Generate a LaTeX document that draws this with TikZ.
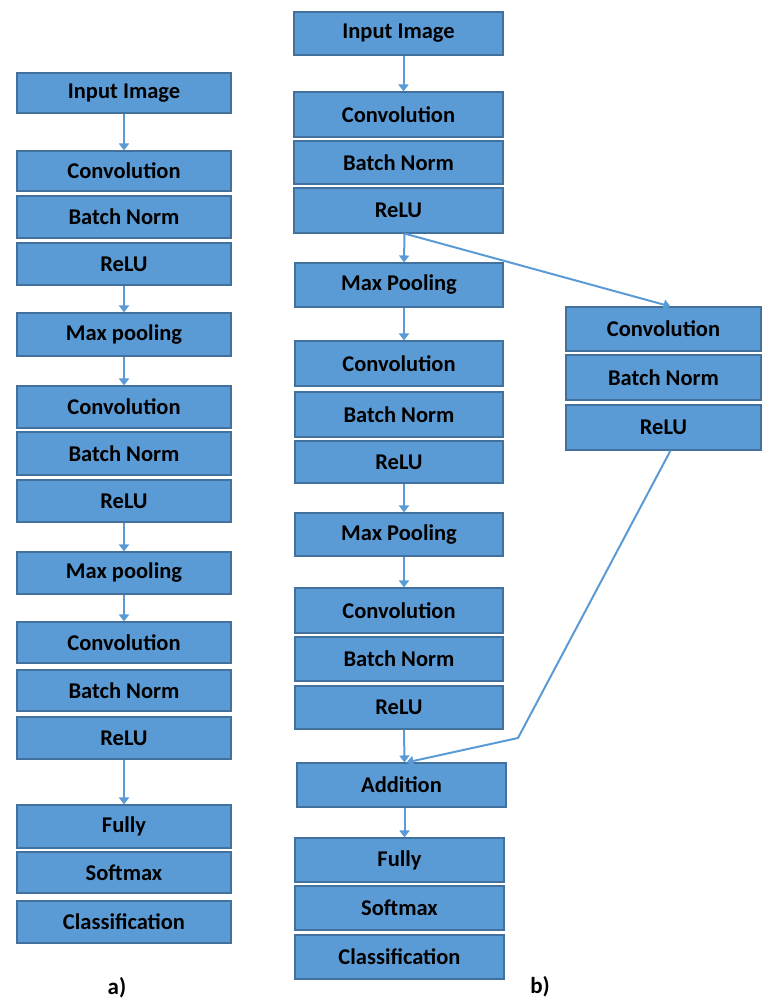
\documentclass[tikz,border=0pt]{standalone}
\usepackage{fontspec}
\setmainfont{Carlito}
\usetikzlibrary{arrows.meta,calc}
\definecolor{boxfill}{HTML}{5B9BD5}
\definecolor{boxline}{HTML}{41719C}
\definecolor{arr}{HTML}{5B9BD5}
\newcommand\bx[6]{\node[box, minimum width={(#4-#2)*1pt}, minimum height={(#5-#3)*1pt}] (#1) at ({(#2+#4)/2},{(#3+#5)/2}) {\raisebox{-1.5pt}{#6}};}
\begin{document}
\begin{tikzpicture}[x=1pt,y=-1pt,
  box/.style={draw=boxline, fill=boxfill, line width=1.1pt, inner sep=0pt,
    font=\fontsize{22.5}{24}\selectfont\bfseries, text=black},
  link/.style={draw=arr, line width=2pt, -{Triangle[width=10pt,length=7pt]}},
  lab/.style={font=\fontsize{23}{25}\selectfont\bfseries, text=black}]
\useasboundingbox (0,0) rectangle (762,1002);
% left column a)
\bx{a1}{17}{73}{231}{113}{Input Image}
\bx{a2}{17}{151}{231}{191}{Convolution}
\bx{a3}{17}{196}{231}{238}{Batch Norm}
\bx{a4}{17}{243}{231}{285}{ReLU}
\bx{a5}{17}{313}{231}{356}{Max pooling}
\bx{a6}{17}{386}{231}{428}{Convolution}
\bx{a7}{17}{432}{231}{475}{Batch Norm}
\bx{a8}{17}{480}{231}{522}{ReLU}
\bx{a9}{17}{552}{231}{594}{Max pooling}
\bx{a10}{17}{622}{231}{663}{Convolution}
\bx{a11}{17}{670}{231}{711}{Batch Norm}
\bx{a12}{17}{717}{231}{759}{ReLU}
\bx{a13}{17}{805}{231}{848}{Fully}
\bx{a14}{17}{852}{231}{893}{Softmax}
\bx{a15}{17}{901}{231}{943}{Classification}
\draw[link] (a1) -- (a2);
\draw[link] (a4) -- (a5);
\draw[link] (a5) -- (a6);
\draw[link] (a8) -- (a9);
\draw[link] (a9) -- (a10);
\draw[link] (a12) -- (a13);
\node[lab] (la) at (117,988) {a)};
% middle column b)
\bx{b1}{294}{12}{503}{55}{Input Image}
\bx{b2}{294}{92}{503}{137}{Convolution}
\bx{b3}{294}{141}{503}{184}{Batch Norm}
\bx{b4}{294}{188}{503}{233}{ReLU}
\bx{b5}{295}{263}{503}{307}{Max Pooling}
\bx{b6}{295}{341}{503}{386}{Convolution}
\bx{b7}{295}{392}{503}{437}{Batch Norm}
\bx{b8}{295}{441}{503}{483}{ReLU}
\bx{b9}{295}{513}{503}{556}{Max Pooling}
\bx{b10}{295}{588}{503}{633}{Convolution}
\bx{b11}{295}{637}{503}{681}{Batch Norm}
\bx{b12}{295}{686}{503}{729}{ReLU}
\bx{b13}{297}{763}{506}{807}{Addition}
\bx{b14}{295}{838}{504}{882}{Fully}
\bx{b15}{295}{886}{504}{930}{Softmax}
\bx{b16}{295}{935}{504}{979}{Classification}
% right branch
\bx{c1}{566}{307}{761}{351}{Convolution}
\bx{c2}{566}{355}{761}{400}{Batch Norm}
\bx{c3}{566}{405}{761}{450}{ReLU}
\draw[link] ($(b1.south)+(5,0)$) -- ($(b2.north)+(5,0)$);
\draw[link] ($(b4.south)+(6,0)$) -- ($(b5.north)+(5,0)$);
\draw[link] ($(b5.south)+(5,0)$) -- ($(b6.north)+(5,0)$);
\draw[link] ($(b8.south)+(5,0)$) -- ($(b9.north)+(5,0)$);
\draw[link] ($(b9.south)+(5,0)$) -- ($(b10.north)+(5,0)$);
\draw[link] ($(b12.south)+(5,0)$) -- ($(b13.north)+(3,0)$);
\draw[link] ($(b13.south)+(3,0)$) -- ($(b14.north)+(5,0)$);
\draw[link] ($(b4.south)+(6,0)$) -- ($(c1.north)+(7,0)$);
\coordinate (k) at (518,738);
\draw[link] ($(c3.south)+(7,0)$) -- (k) -- ($(b13.north)+(5,0)$);
\node[lab] (lb) at (540,987) {b)};
\end{tikzpicture}
\end{document}
